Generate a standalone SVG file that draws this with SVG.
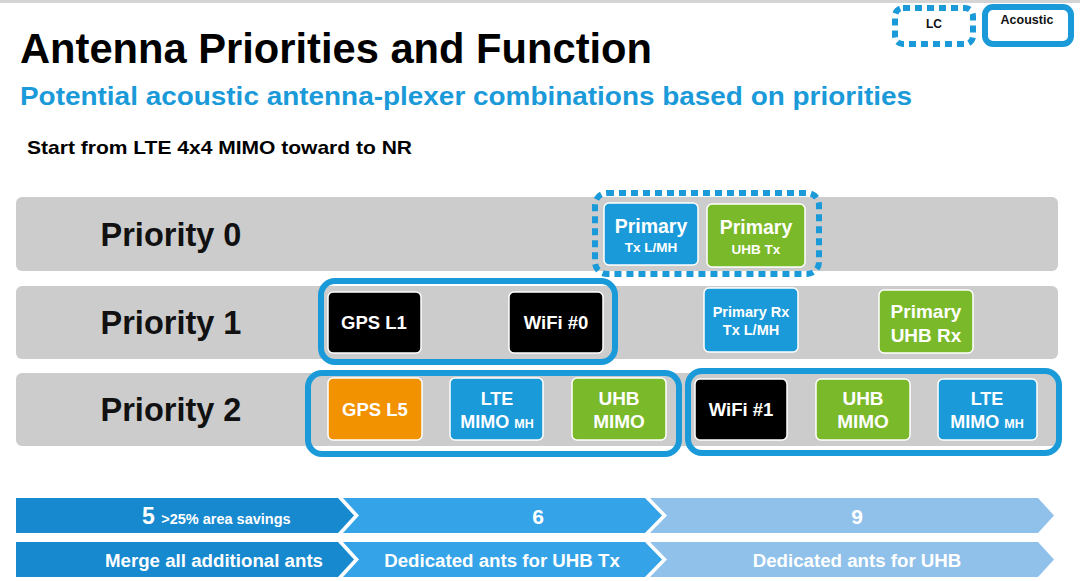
<svg xmlns="http://www.w3.org/2000/svg" width="1080" height="581" viewBox="0 0 1080 581">
<style>
text{font-family:"Liberation Sans",Arial,sans-serif;font-weight:bold}
.bar{fill:#cccccc}
.blue{fill:#1a9ad9;stroke:#ffffff;stroke-width:1.5}
.green{fill:#7ab929;stroke:#ffffff;stroke-width:1.5}
.black{fill:#000000;stroke:#ffffff;stroke-width:1.5}
.orange{fill:#f39200;stroke:#ffffff;stroke-width:1.5}
.grp{fill:none;stroke:#1a9ad9;stroke-width:6}
.dot{fill:none;stroke:#1a9ad9;stroke-width:6;stroke-dasharray:7 5}
.w{fill:#ffffff;text-anchor:middle}
.pr{font-size:32.5px;fill:#111111;text-anchor:middle}
</style>
<rect x="0" y="0" width="1080" height="581" fill="#ffffff"/>
<rect x="0" y="0" width="1080" height="3" fill="#d4d4d4"/>

<g id="legend-lc">
<rect x="895" y="8" width="78" height="36" rx="8" class="dot"/>
<text x="934" y="28" font-size="12" text-anchor="middle" fill="#111">LC</text>
</g>
<g id="legend-acoustic">
<rect x="985" y="7" width="86" height="37" rx="8" class="grp" fill="#fff"/>
<text x="1027" y="24" font-size="12.5" text-anchor="middle" fill="#111">Acoustic</text>
</g>

<text x="20" y="63" font-size="42" fill="#000" textLength="632" lengthAdjust="spacingAndGlyphs">Antenna Priorities and Function</text>
<text x="20" y="105" font-size="25" fill="#1a9ad9" textLength="892" lengthAdjust="spacingAndGlyphs">Potential acoustic antenna-plexer combinations based on priorities</text>
<text x="27" y="154" font-size="19" fill="#000" textLength="385" lengthAdjust="spacingAndGlyphs">Start from LTE 4x4 MIMO toward to NR</text>

<g id="rows">
<rect x="16" y="197" width="1042" height="74" rx="6" class="bar"/>
<rect x="16" y="286" width="1042" height="73" rx="6" class="bar"/>
<rect x="16" y="373" width="1042" height="73" rx="6" class="bar"/>
</g>
<g id="priority0"><text x="171" y="246" class="pr">Priority 0</text></g>
<g id="priority1"><text x="171" y="334" class="pr">Priority 1</text></g>
<g id="priority2"><text x="171" y="421" class="pr">Priority 2</text></g>

<g id="groups">
<rect x="595" y="193" width="224" height="81" rx="12" class="dot"/>
<rect x="321" y="281" width="294" height="81" rx="14" class="grp"/>
<rect x="308" y="373" width="371" height="81" rx="14" class="grp"/>
<rect x="688" y="371" width="371" height="82" rx="14" class="grp"/>
</g>

<g id="primary-tx-lmh">
<rect x="604" y="203" width="94" height="62" rx="5" class="blue"/>
<text x="651" y="233" font-size="19.5" class="w">Primary</text>
<text x="651" y="252" font-size="13.5" class="w">Tx L/MH</text>
</g>
<g id="primary-uhb-tx">
<rect x="707" y="204" width="98" height="63" rx="5" class="green"/>
<text x="756" y="234" font-size="19.5" class="w">Primary</text>
<text x="756" y="254" font-size="13.5" class="w">UHB Tx</text>
</g>

<g id="gps-l1">
<rect x="328" y="292" width="93" height="61" rx="5" class="black"/>
<text x="374" y="329" font-size="18.5" class="w">GPS L1</text>
</g>
<g id="wifi-0">
<rect x="509" y="292" width="94" height="61" rx="5" class="black"/>
<text x="556" y="329" font-size="18.5" class="w">WiFi #0</text>
</g>
<g id="primary-rx">
<rect x="704" y="288" width="94" height="64" rx="5" class="blue"/>
<text x="751" y="317" font-size="14.5" class="w">Primary Rx</text>
<text x="751" y="335" font-size="14.5" class="w">Tx L/MH</text>
</g>
<g id="primary-uhb-rx">
<rect x="879" y="290" width="94" height="63" rx="5" class="green"/>
<text x="926" y="318" font-size="19" class="w">Primary</text>
<text x="926" y="342" font-size="19" class="w">UHB Rx</text>
</g>

<g id="gps-l5">
<rect x="328" y="378" width="94" height="62" rx="5" class="orange"/>
<text x="375" y="416" font-size="18.5" class="w">GPS L5</text>
</g>
<g id="lte-mimo-1">
<rect x="450" y="378" width="93" height="62" rx="5" class="blue"/>
<text x="497" y="405" font-size="18" class="w">LTE</text>
<text x="497" y="428" font-size="18" class="w">MIMO <tspan font-size="12.5">MH</tspan></text>
</g>
<g id="uhb-mimo-1">
<rect x="572" y="378" width="94" height="62" rx="5" class="green"/>
<text x="619" y="405" font-size="19" class="w">UHB</text>
<text x="619" y="428" font-size="19" class="w">MIMO</text>
</g>
<g id="wifi-1">
<rect x="695" y="379" width="92" height="61" rx="5" class="black"/>
<text x="741" y="416" font-size="18.5" class="w">WiFi #1</text>
</g>
<g id="uhb-mimo-2">
<rect x="816" y="379" width="94" height="61" rx="5" class="green"/>
<text x="863" y="405" font-size="19" class="w">UHB</text>
<text x="863" y="428" font-size="19" class="w">MIMO</text>
</g>
<g id="lte-mimo-2">
<rect x="938" y="379" width="99" height="61" rx="5" class="blue"/>
<text x="987" y="405" font-size="18" class="w">LTE</text>
<text x="987" y="428" font-size="18" class="w">MIMO <tspan font-size="12.5">MH</tspan></text>
</g>

<g id="chevrons">
<polygon points="16,498 338,498 354,515.5 338,533 16,533" fill="#1689cf"/>
<polygon points="343,498 645,498 662,515.5 645,533 343,533 359,515.5" fill="#34a3e8"/>
<polygon points="650,498 1038,498 1054,515.5 1038,533 650,533 667,515.5" fill="#8fc1ea"/>
<polygon points="16,542 338,542 354,559.5 338,577 16,577" fill="#1689cf"/>
<polygon points="343,542 645,542 662,559.5 645,577 343,577 359,559.5" fill="#34a3e8"/>
<polygon points="650,542 1038,542 1054,559.5 1038,577 650,577 667,559.5" fill="#8fc1ea"/>
<text x="142" y="524" font-size="23" fill="#fff">5 <tspan font-size="14.5">&gt;25% area savings</tspan></text>
<text x="538" y="524" font-size="21" class="w">6</text>
<text x="857" y="524" font-size="21" class="w">9</text>
<text x="214" y="567" font-size="18.7" class="w">Merge all additional ants</text>
<text x="502" y="567" font-size="18.7" class="w">Dedicated ants for UHB Tx</text>
<text x="857" y="567" font-size="18.7" class="w">Dedicated ants for UHB</text>
</g>
</svg>
